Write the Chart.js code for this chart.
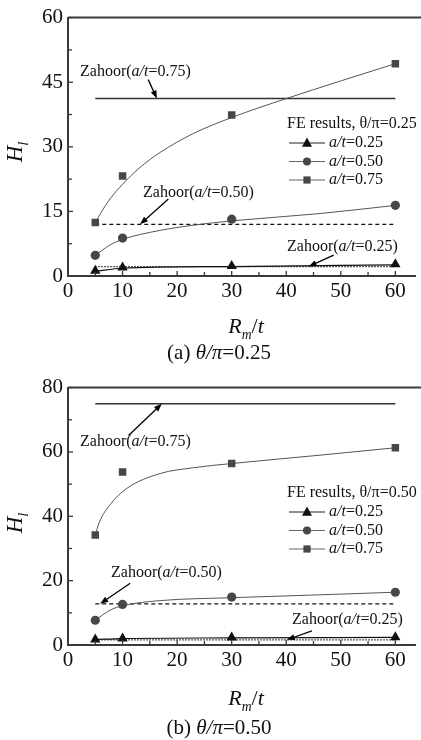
<!DOCTYPE html>
<html>
<head>
<meta charset="utf-8">
<script src="https://cdn.jsdelivr.net/npm/chart.js@4.4.1/dist/chart.umd.min.js"></script>
<style>
html, body { margin: 0; padding: 0; background: #fff; overflow: hidden; }
.box { position: absolute; left: 0; width: 421px; height: 370px; }
</style>
</head>
<body>
<div class="box" style="top:0"><canvas id="chartA" width="421" height="370"></canvas></div>
<div class="box" style="top:370px"><canvas id="chartB" width="421" height="370"></canvas></div>
<script>
// x positions of the FE results and of the Zahoor lines
const xFE = [5, 10, 30, 60];
const xZahoor = [5, 60];
const xTicks = [0, 10, 20, 30, 40, 50, 60];

// (a) theta/pi = 0.25
const yTicksA = [0, 15, 30, 45, 60];
const feA025 = [1.2, 2.0, 2.3, 2.7];
const feA050 = [4.8, 8.8, 13.2, 16.4];
const feA075 = [12.4, 23.2, 37.4, 49.3];
const zahoorA025 = 2.2;
const zahoorA050 = 12.0;
const zahoorA075 = 41.2;
const fitA025x = [5, 10, 30, 60];
const fitA025y = [1.1, 1.8, 2.2, 2.6];
const fitA050x = [5, 7.7, 10, 16.9, 23, 30, 46.2, 60];
const fitA050y = [4.8, 7.2, 8.5, 10.6, 11.8, 12.8, 14.5, 16.4];
const fitA075x = [5, 6, 7.7, 10, 13, 16.9, 23, 30, 40, 50, 60];
const fitA075y = [12.4, 14.6, 17.9, 21.3, 25, 28.7, 33.1, 36.8, 41.2, 45.3, 49.3];

// (b) theta/pi = 0.50
const yTicksB = [0, 20, 40, 60, 80];
const feB025 = [1.7, 2.0, 2.3, 2.4];
const feB050 = [7.7, 12.6, 14.9, 16.4];
const feB075 = [34.2, 53.8, 56.4, 61.3];
const zahoorB025 = 1.6;
const zahoorB050 = 12.8;
const zahoorB075 = 75;
const fitB025x = [5, 10, 30, 60];
const fitB025y = [1.7, 2.0, 2.2, 2.4];
const fitB050x = [5, 7.7, 10, 16.9, 30, 46.2, 60];
const fitB050y = [7.7, 10.8, 12.2, 13.8, 14.7, 15.6, 16.4];
const fitB075x = [5, 5.7, 7.7, 10.8, 16.9, 23, 30, 46.2, 60];
const fitB075y = [34.2, 38, 43.6, 48.7, 53.3, 55.1, 56.4, 59, 61.3];

const family = '"Liberation Serif", "Times New Roman", serif';
const axisColor = '#3a3a3a';
const markGrey = '#474747';

const pts = (xs, ys) => xs.map((x, i) => ({x: x, y: ys[i]}));
const flat = (y) => xZahoor.map(x => ({x: x, y: y}));

// text made of plain / italic / subscript runs
function runsWidth(ctx, runs, size) {
    let w = 0;
    runs.forEach(r => {
        const s = r.sub ? size * 0.62 : size;
        ctx.font = `${r.i ? 'italic ' : ''}${s}px ${family}`;
        w += ctx.measureText(r.t).width;
    });
    return w;
}
function drawRuns(ctx, runs, x, y, size, align) {
    let cx = x;
    if (align === 'center') cx = x - runsWidth(ctx, runs, size) / 2;
    ctx.textBaseline = 'middle';
    ctx.textAlign = 'left';
    runs.forEach(r => {
        const s = r.sub ? size * 0.62 : size;
        ctx.font = `${r.i ? 'italic ' : ''}${s}px ${family}`;
        ctx.fillText(r.t, cx, r.sub ? y + size * 0.38 : y);
        cx += ctx.measureText(r.t).width;
    });
}
const atLabel = (pre, val) => [{t: pre}, {t: 'a/t', i: true}, {t: '=' + val + (pre ? ')' : '')}];

function drawMarker(ctx, kind, x, y, r) {
    ctx.beginPath();
    if (kind === 'rect') {
        ctx.rect(x - r, y - r, 2 * r, 2 * r);
    } else if (kind === 'circle') {
        ctx.arc(x, y, r, 0, Math.PI * 2);
    } else {
        ctx.moveTo(x, y - r * 1.1);
        ctx.lineTo(x + r, y + r * 0.75);
        ctx.lineTo(x - r, y + r * 0.75);
        ctx.closePath();
    }
    ctx.fill();
}

function arrow(ctx, x1, y1, x2, y2) {
    const a = Math.atan2(y2 - y1, x2 - x1);
    ctx.strokeStyle = '#000';
    ctx.fillStyle = '#000';
    ctx.lineWidth = 1.3;
    ctx.beginPath();
    ctx.moveTo(x1, y1);
    ctx.lineTo(x2 - 4 * Math.cos(a), y2 - 4 * Math.sin(a));
    ctx.stroke();
    ctx.beginPath();
    ctx.moveTo(x2, y2);
    ctx.lineTo(x2 - 8 * Math.cos(a) + 3 * Math.sin(a), y2 - 8 * Math.sin(a) - 3 * Math.cos(a));
    ctx.lineTo(x2 - 8 * Math.cos(a) - 3 * Math.sin(a), y2 - 8 * Math.sin(a) + 3 * Math.cos(a));
    ctx.closePath();
    ctx.fill();
}

const extras = {
    id: 'extras',
    afterDraw(chart, args, o) {
        const ctx = chart.ctx;
        const xs = chart.scales.x, ys = chart.scales.y;
        const area = chart.chartArea;
        ctx.save();

        // top frame line
        ctx.strokeStyle = axisColor;
        ctx.lineWidth = 2;
        ctx.beginPath();
        ctx.moveTo(area.left, area.top);
        ctx.lineTo(chart.width, area.top);
        ctx.stroke();

        // inward ticks
        ctx.lineWidth = 1.3;
        const xt = xTicks.concat(xTicks.map(v => v + 5));
        xt.forEach(v => {
            if (v === 0) return;
            const len = v % 10 === 0 ? 5 : 4;
            const px = xs.getPixelForValue(v);
            ctx.beginPath();
            ctx.moveTo(px, area.bottom);
            ctx.lineTo(px, area.bottom - len);
            ctx.stroke();
        });
        const yt = o.yTicks.concat(o.yTicks.slice(0, -1).map((v, i) => (v + o.yTicks[i + 1]) / 2));
        yt.forEach((v, i) => {
            if (v === 0) return;
            const py = ys.getPixelForValue(v);
            ctx.beginPath();
            ctx.moveTo(area.left, py);
            ctx.lineTo(area.left + (i < o.yTicks.length ? 5 : 4), py);
            ctx.stroke();
        });

        ctx.fillStyle = '#111';
        // Zahoor notes and arrows
        o.notes.forEach(n => {
            ctx.fillStyle = '#111';
            drawRuns(ctx, atLabel('Zahoor(', n.val), n.tx, n.ty, 16, 'left');
            arrow(ctx, xs.getPixelForValue(n.from[0]), ys.getPixelForValue(n.from[1]),
                xs.getPixelForValue(n.to[0]), ys.getPixelForValue(n.to[1]));
        });

        // legend
        const L = o.legend;
        ctx.fillStyle = '#111';
        drawRuns(ctx, [{t: 'FE results, \u03b8/\u03c0=' + L.theta}], L.x, L.y, 16, 'left');
        L.items.forEach((it, i) => {
            const y = L.y + 19 + i * 18.5;
            ctx.strokeStyle = it.line;
            ctx.lineWidth = 1.2;
            ctx.beginPath();
            ctx.moveTo(L.x + 2, y);
            ctx.lineTo(L.x + 38, y);
            ctx.stroke();
            ctx.fillStyle = it.color;
            drawMarker(ctx, it.kind, L.x + 20, y, it.kind === 'triangle' ? 5 : (it.kind === 'rect' ? 3.6 : 4));
            ctx.fillStyle = '#111';
            drawRuns(ctx, atLabel('', it.val), L.x + 42, y, 16, 'left');
        });

        // axis titles and caption
        ctx.fillStyle = '#111';
        drawRuns(ctx, [{t: 'R', i: true}, {t: 'm', i: true, sub: true}, {t: '/'}, {t: 't', i: true}],
            246, o.xTitleY, 22, 'center');
        drawRuns(ctx, o.caption, 219, o.captionY, 21, 'center');
        ctx.translate(16, o.yTitleY);
        ctx.rotate(-Math.PI / 2);
        drawRuns(ctx, [{t: 'H', i: true}, {t: 'l', i: true, sub: true}], 0, 0, 23, 'center');
        ctx.restore();
    }
};

function makeChart(id, cfg) {
    const line = {showLine: true, pointRadius: 0, fill: false};
    const datasets = [
        {data: pts(xFE, cfg.fe075), showLine: false, pointStyle: 'rect', pointRadius: 5.3,
            backgroundColor: markGrey, borderWidth: 0, order: 0},
        {data: pts(xFE, cfg.fe050), showLine: false, pointStyle: 'circle', pointRadius: 4.6,
            backgroundColor: markGrey, borderWidth: 0, order: 0},
        {data: pts(xFE, cfg.fe025), showLine: false, pointStyle: 'triangle', pointRadius: 6,
            backgroundColor: '#111', borderWidth: 0, order: 0},
        {...line, data: pts(cfg.fit075x, cfg.fit075y), borderColor: '#555', borderWidth: 1,
            cubicInterpolationMode: 'monotone', order: 1},
        {...line, data: pts(cfg.fit050x, cfg.fit050y), borderColor: '#555', borderWidth: 1,
            cubicInterpolationMode: 'monotone', order: 1},
        {...line, data: pts(cfg.fit025x, cfg.fit025y), borderColor: '#111', borderWidth: 1.2,
            cubicInterpolationMode: 'monotone', order: 1},
        {...line, data: flat(cfg.z075), borderColor: '#333', borderWidth: 1.4, order: 2},
        {...line, data: flat(cfg.z050), borderColor: '#111', borderWidth: 1.2, borderDash: [4, 3], order: 2},
        {...line, data: flat(cfg.z025), borderColor: '#222', borderWidth: 1.2, borderDash: [1.5, 1.5], order: 2}
    ];
    return new Chart(document.getElementById(id), {
        type: 'scatter',
        data: {datasets: datasets},
        options: {
            responsive: false,
            animation: false,
            events: [],
            layout: {padding: {top: cfg.padTop, left: 0, right: 0, bottom: 0}},
            plugins: {legend: {display: false}, tooltip: {enabled: false}, extras: cfg},
            scales: {
                x: {
                    type: 'linear', min: 0, max: 63.6,
                    afterBuildTicks: s => { s.ticks = xTicks.map(v => ({value: v})); },
                    afterFit: s => { s.height = cfg.xAxisH; },
                    grid: {display: false, drawTicks: false, tickLength: 0},
                    border: {display: true, color: axisColor, width: 2},
                    ticks: {font: {family: family, size: 21}, color: '#111', padding: 3, maxRotation: 0, autoSkip: false}
                },
                y: {
                    type: 'linear', min: cfg.yTicks[0], max: cfg.yTicks[cfg.yTicks.length - 1],
                    afterBuildTicks: s => { s.ticks = cfg.yTicks.map(v => ({value: v})); },
                    afterFit: s => { s.width = 68; },
                    grid: {display: false, drawTicks: false, tickLength: 0},
                    border: {display: true, color: axisColor, width: 2},
                    ticks: {font: {family: family, size: 21}, color: '#111', padding: 5, autoSkip: false}
                }
            }
        },
        plugins: [extras]
    });
}

makeChart('chartA', {
    padTop: 16, xAxisH: 94, yTicks: yTicksA,
    fe025: feA025, fe050: feA050, fe075: feA075,
    fit025x: fitA025x, fit025y: fitA025y, fit050x: fitA050x, fit050y: fitA050y,
    fit075x: fitA075x, fit075y: fitA075y,
    z025: zahoorA025, z050: zahoorA050, z075: zahoorA075,
    notes: [
        {val: '0.75', tx: 80, ty: 72, from: [14.7, 45.6], to: [16.3, 41.2]},
        {val: '0.50', tx: 143, ty: 193, from: [18.4, 17.9], to: [13.2, 12.0]},
        {val: '0.25', tx: 287, ty: 247, from: [48.7, 4.85], to: [44.1, 2.2]}
    ],
    legend: {x: 287, y: 124, theta: '0.25', items: [
        {kind: 'triangle', color: '#111', line: '#222', val: '0.25'},
        {kind: 'circle', color: markGrey, line: '#666', val: '0.50'},
        {kind: 'rect', color: markGrey, line: '#666', val: '0.75'}
    ]},
    xTitleY: 327, yTitleY: 152, captionY: 353,
    caption: [{t: '(a) '}, {t: '\u03b8/\u03c0', i: true}, {t: '=0.25'}]
});

makeChart('chartB', {
    padTop: 15, xAxisH: 95, yTicks: yTicksB,
    fe025: feB025, fe050: feB050, fe075: feB075,
    fit025x: fitB025x, fit025y: fitB025y, fit050x: fitB050x, fit050y: fitB050y,
    fit075x: fitB075x, fit075y: fitB075y,
    z025: zahoorB025, z050: zahoorB050, z075: zahoorB075,
    notes: [
        {val: '0.75', tx: 80, ty: 72, from: [11.1, 65.1], to: [17.2, 75]},
        {val: '0.50', tx: 111, ty: 203, from: [11.4, 19.2], to: [5.9, 12.8]},
        {val: '0.25', tx: 292, ty: 250, from: [44.7, 4.4], to: [40.1, 1.6]}
    ],
    legend: {x: 287, y: 123, theta: '0.50', items: [
        {kind: 'triangle', color: '#111', line: '#222', val: '0.25'},
        {kind: 'circle', color: markGrey, line: '#666', val: '0.50'},
        {kind: 'rect', color: markGrey, line: '#666', val: '0.75'}
    ]},
    xTitleY: 329, yTitleY: 153, captionY: 358,
    caption: [{t: '(b) '}, {t: '\u03b8/\u03c0', i: true}, {t: '=0.50'}]
});
</script>
</body>
</html>
